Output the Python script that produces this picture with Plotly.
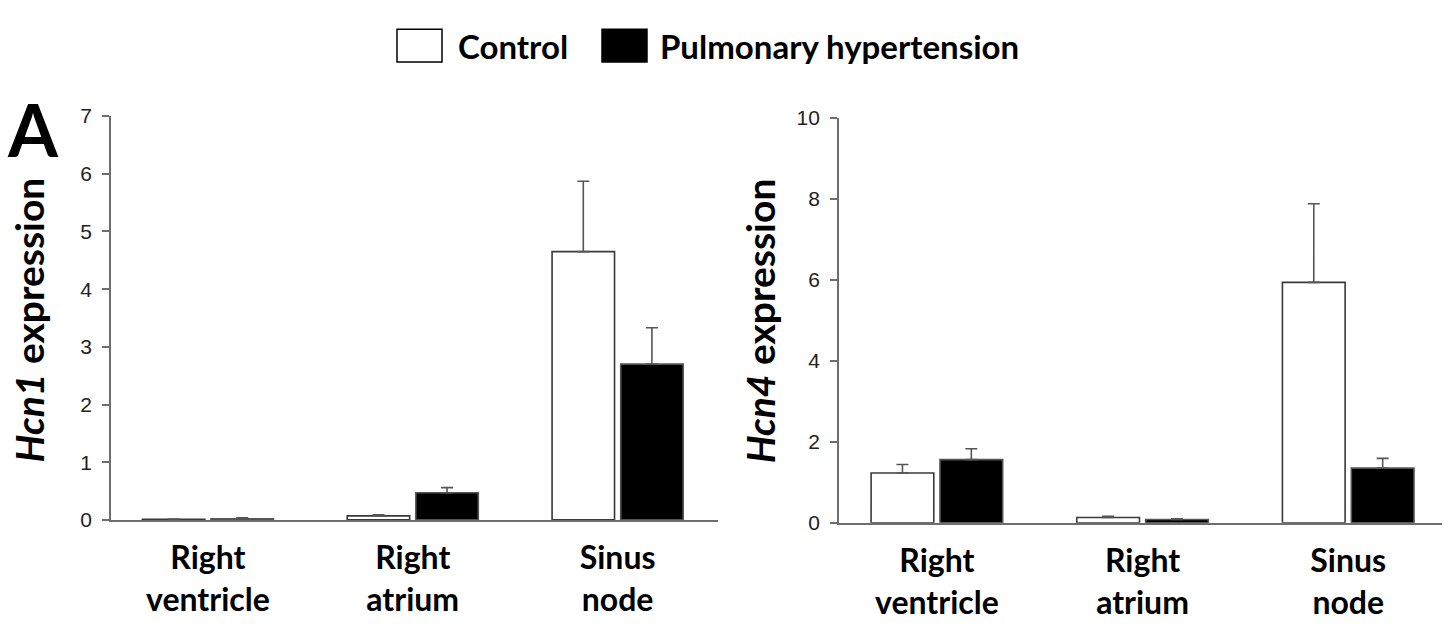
import plotly.graph_objects as go

tissues = ["Right<br>ventricle", "Right<br>atrium", "Sinus<br>node"]

# Hcn1 (panel left)
hcn1_control = [0.01, 0.07, 4.65]
hcn1_control_err = [0.005, 0.02, 1.22]
hcn1_ph = [0.02, 0.47, 2.70]
hcn1_ph_err = [0.015, 0.09, 0.63]

# Hcn4 (panel right)
hcn4_control = [1.23, 0.13, 5.94]
hcn4_control_err = [0.21, 0.03, 1.94]
hcn4_ph = [1.56, 0.08, 1.35]
hcn4_ph_err = [0.27, 0.02, 0.24]

W, H = 1448, 634
BOLD_FONT = "Lato"
AX_COLOR = "#6e6e6e"


def err(vals):
    return dict(type='data', array=vals, arrayminus=[0] * len(vals), symmetric=False,
                color='#555555', thickness=1.6, width=6)


def px(x, y):
    # pixel position (from top-left) -> paper coords
    return x / W, (H - y) / H


fig = go.Figure()

for xa, ya, ctrl, ctrl_e, ph, ph_e in [
    ('x', 'y', hcn1_control, hcn1_control_err, hcn1_ph, hcn1_ph_err),
    ('x2', 'y2', hcn4_control, hcn4_control_err, hcn4_ph, hcn4_ph_err),
]:
    fig.add_trace(go.Bar(x=tissues, y=ctrl, error_y=err(ctrl_e), name='Control',
                         marker=dict(color='white', line=dict(color='#3a3a3a', width=1.6)),
                         xaxis=xa, yaxis=ya, showlegend=False))
    fig.add_trace(go.Bar(x=tissues, y=ph, error_y=err(ph_e), name='Pulmonary hypertension',
                         marker=dict(color='black', line=dict(color='#555555', width=1.6)),
                         xaxis=xa, yaxis=ya, showlegend=False))

xaxis_common = dict(showline=True, linecolor=AX_COLOR, linewidth=1.8, ticks='', showgrid=False,
                    zeroline=False, tickfont=dict(family=BOLD_FONT, size=32, color='black', weight='bold'),
                    ticklabelstandoff=9, fixedrange=True)
yaxis_common = dict(showline=True, linecolor=AX_COLOR, linewidth=1.8, ticks='outside', ticklen=7,
                    tickcolor=AX_COLOR, tickwidth=1.5, showgrid=False, zeroline=False,
                    ticklabelstandoff=6,
                    tickfont=dict(family='Liberation Sans', size=21, color='#222222'))

fig.update_layout(
    width=W, height=H, autosize=False,
    margin=dict(l=0, r=0, t=0, b=0),
    paper_bgcolor='white', plot_bgcolor='white',
    barmode='group', bargap=0.33, bargroupgap=0.09,
    xaxis=dict(domain=[111 / W, 718 / W], range=[-0.473, 2.49], anchor='y', **xaxis_common),
    xaxis2=dict(domain=[839 / W, 1442 / W], range=[-0.476, 2.456], anchor='y2', **xaxis_common),
    yaxis=dict(domain=[(H - 527) / H, (H - 108) / H], range=[0, 7], dtick=1, anchor='x', **yaxis_common),
    yaxis2=dict(domain=[(H - 530) / H, (H - 110) / H], range=[0, 10], dtick=2, anchor='x2', **yaxis_common),
)

# y-axis titles and panel letter
for (x, y), txt in [(px(29, 320), "<i>Hcn1</i> expression"), (px(760, 321), "<i>Hcn4</i> expression")]:
    fig.add_annotation(x=x, y=y, xref='paper', yref='paper', xanchor='center', yanchor='middle',
                       textangle=-90, text=txt, showarrow=False,
                       font=dict(family=BOLD_FONT, size=39, color='black', weight='bold'))
x, y = px(33, 121)
fig.add_annotation(x=x, y=y, xref='paper', yref='paper', xanchor='center', yanchor='middle',
                   text="A", showarrow=False,
                   font=dict(family=BOLD_FONT, size=72, color='black', weight='bold'))

# legend drawn by hand (big square keys)
for x0, fill, x_txt, label in [(397, 'white', 456, "Control"), (602, 'black', 658, "Pulmonary hypertension")]:
    fig.add_shape(type='rect', xref='paper', yref='paper',
                  x0=x0 / W, x1=(x0 + 45) / W, y0=(H - 52) / H, y1=(H - 18) / H,
                  fillcolor=fill, line=dict(color='black', width=1.5))
    x, y = px(x_txt, 35)
    fig.add_annotation(x=x, y=y, xref='paper', yref='paper', xanchor='left', yanchor='middle',
                       text=label, showarrow=False,
                       font=dict(family=BOLD_FONT, size=33, color='black', weight='bold'))

# pin the plot to the top-left corner of the page so nothing else shifts it
pin = ("var gd=document.getElementById('{plot_id}');"
       "gd.style.position='fixed';gd.style.top='0px';gd.style.left='0px';"
       "document.body.style.margin='0';document.body.style.overflow='hidden';"
       "document.documentElement.style.overflow='hidden';")
fig.write_html("out.html", config={'responsive': False, 'displayModeBar': False}, post_script=pin)
